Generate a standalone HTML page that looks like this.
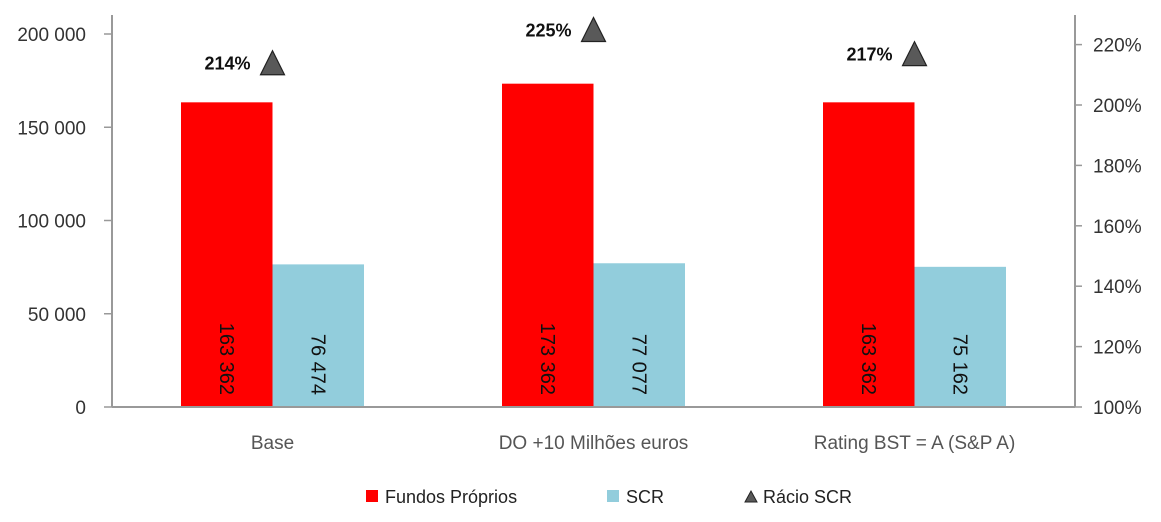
<!DOCTYPE html>
<html><head><meta charset="utf-8"><style>
body{margin:0;background:#fff;}
svg{display:block;font-family:"Liberation Sans",sans-serif;}
</style></head><body>
<svg id="c" width="1161" height="522"></svg>
<script>
const categories=["Base","DO +10 Milhões euros","Rating BST = A  (S&P A)"];
const fundos=[163362,173362,163362];
const scr=[76474,77077,75162];
const racio=[214,225,217];
const leftTicks=[0,50000,100000,150000,200000];
const rightTicks=[100,120,140,160,180,200,220];
const NS="http://www.w3.org/2000/svg";
const svg=document.getElementById('c');
const X0=112,X1=1075,Y0=407;
const yL=v=>Y0-v*(373/200000);
const yR=v=>Y0-(v-100)*(60.4/20);
const cw=(X1-X0)/categories.length;
const cx=i=>X0+cw*(i+0.5);
function mk(t,a,txt){const e=document.createElementNS(NS,t);for(const k in a)e.setAttribute(k,a[k]);if(txt!=null)e.textContent=txt;svg.appendChild(e);return e;}
const fmt=v=>String(v).replace(/\B(?=(\d{3})+(?!\d))/g," ");
let e;
e=mk('line',{x1:X0,y1:15,x2:X0,y2:Y0,stroke:'#999','stroke-width':2});


e=mk('line',{x1:X1,y1:15,x2:X1,y2:Y0,stroke:'#999','stroke-width':2});


leftTicks.forEach(v=>{
 mk('line',{x1:104,y1:yL(v),x2:X0,y2:yL(v),stroke:'#999','stroke-width':1.5});
 e=mk('text',{x:86,y:yL(v)+7,'text-anchor':'end','font-size':19,fill:'#333'},fmt(v));
 
 
});
rightTicks.forEach(v=>{
 mk('line',{x1:X1,y1:yR(v),x2:1082,y2:yR(v),stroke:'#999','stroke-width':1.5});
 e=mk('text',{x:1093,y:yR(v)+7,'font-size':19,fill:'#333'},v+'%');
 
 
});
const bw=91.5;
categories.forEach((c,i)=>{
 const m=cx(i);
 e=mk('rect',{x:m-bw,y:yL(fundos[i]),width:bw,height:Y0-yL(fundos[i]),fill:'#ff0000'});
 
 
 e=mk('rect',{x:m,y:yL(scr[i]),width:bw,height:Y0-yL(scr[i]),fill:'#92cddc'});
 
 
 e=mk('text',{x:0,y:0,transform:`translate(${m-bw/2-7},395) rotate(90)`,'text-anchor':'end','font-size':20,fill:'#111'},fmt(fundos[i]));
 
 
 e=mk('text',{x:0,y:0,transform:`translate(${m+bw/2-7},395) rotate(90)`,'text-anchor':'end','font-size':20,fill:'#111'},fmt(scr[i]));
 
 
 const ty=yR(racio[i]);
 e=mk('polygon',{points:`${m-12},${ty+12} ${m+12},${ty+12} ${m},${ty-12}`,fill:'#595959',stroke:'#222','stroke-width':1.2});
 
 
 e=mk('text',{x:m-22,y:ty+7,'text-anchor':'end','font-size':18,'font-weight':'bold',fill:'#111'},racio[i]+'%');
 
 
 e=mk('text',{x:m,y:449,'text-anchor':'middle','font-size':19,fill:'#555'},c);
 
 
});
e=mk('line',{x1:X0,y1:Y0,x2:X1,y2:Y0,stroke:'#999','stroke-width':2});


// legend
e=mk('rect',{x:366,y:490,width:12,height:12,fill:'#ff0000'});


e=mk('text',{x:385,y:503,'font-size':18,fill:'#222'},'Fundos Próprios');


e=mk('rect',{x:607,y:490,width:12,height:12,fill:'#92cddc'});


e=mk('text',{x:626,y:503,'font-size':18,fill:'#222'},'SCR');


e=mk('polygon',{points:'745,502 757,502 751,491',fill:'#595959',stroke:'#222','stroke-width':1});


e=mk('text',{x:763,y:503,'font-size':18,fill:'#222'},'Rácio SCR');


</script>
</body></html>
